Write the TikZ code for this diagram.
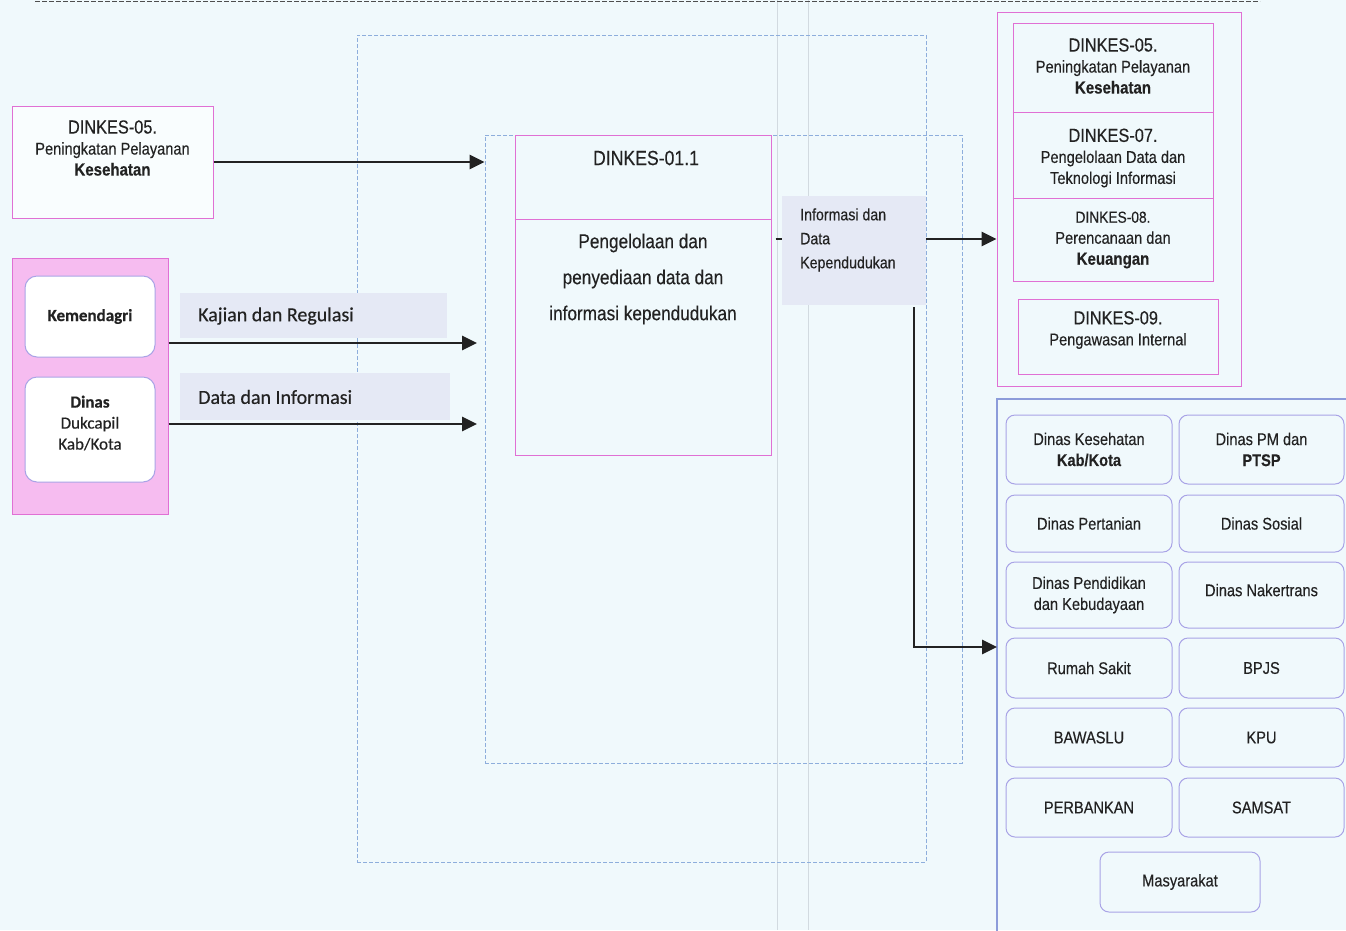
\documentclass[tikz,border=0pt]{standalone}
\usepackage{fontspec}
\setmainfont{Liberation Sans}[FakeStretch=0.86,FakeBold=0.3]
\newfontfamily\calfont{Carlito}[FakeBold=0.4]
\usetikzlibrary{arrows.meta}

\definecolor{bgc}{HTML}{F0F9FC}
\definecolor{mag}{HTML}{E070D4}
\definecolor{pinkfill}{HTML}{F6BCF0}
\definecolor{lav}{HTML}{A9A3E6}
\definecolor{dashblue}{HTML}{8EAEDC}
\definecolor{panelblue}{HTML}{8C9CDA}
\definecolor{tagbg}{HTML}{E5E9F5}
\definecolor{ink}{HTML}{222222}
\definecolor{scan}{HTML}{D2DAE0}

\newcommand{\fs}[1]{\fontsize{#1}{21}\selectfont}
\newcommand{\fb}[1]{\fontsize{#1}{21}\selectfont\bfseries}

\begin{document}
\begin{tikzpicture}[x=1pt,y=-1pt,
  box/.style={draw=mag, line width=1pt, inner sep=0pt},
  rbox/.style={draw=lav, line width=1pt, rounded corners=9pt, inner sep=0pt, align=center, text=ink, font=\fs{17}},
  dbox/.style={draw=dashblue, line width=0.9pt, dash pattern=on 4pt off 2pt, inner sep=0pt},
  tag/.style={fill=tagbg, inner sep=0pt},
  txt/.style={align=center, inner sep=0pt, text=ink, font=\fs{17}},
  flow/.style={draw=ink, line width=2.8pt, -{Triangle[length=15pt,width=14pt]}},
]
\useasboundingbox (0,0) rectangle (1346,930);
\clip (0,0) rectangle (1346,930);
\fill[bgc] (0,0) rectangle (1346,930);

% faint vertical rules
\draw[scan, line width=0.7pt] (777,0) -- (777,930);
\draw[scan, line width=0.7pt] (808,0) -- (808,930);

% top rule
\draw[ink!80, line width=1.6pt, dash pattern=on 5pt off 2pt] (35,1.5) -- (1260,1.5);

% dashed frames
\node[dbox, minimum width=569pt, minimum height=827pt] (outer) at (641.5,448.5) {};
\node[dbox, minimum width=477pt, minimum height=628pt] (inner) at (723.5,449) {};

% source: DINKES-05 on the left
\node[box, fill=white!60!bgc, minimum width=201pt, minimum height=112pt] (a5) at (112.5,162) {};
\node[txt] (a5t) at (112.5,148) {\fs{19}DINKES-05.\\ \fs{17}Peningkatan Pelayanan\\ \fb{17.5}Kesehatan};

% external sources group
\node[box, fill=pinkfill, minimum width=156pt, minimum height=256pt] (grpL) at (90,386) {};
\node[draw=lav, line width=1pt, rounded corners=12pt, fill=white, minimum width=130pt, minimum height=81pt, inner sep=0pt, text=ink, font=\calfont\bfseries\fontsize{17}{21}\selectfont] (kem) at (90,316.5) {Kemendagri};
\node[draw=lav, line width=1pt, rounded corners=12pt, fill=white, minimum width=130pt, minimum height=105pt, inner sep=0pt] (duk) at (90,429.5) {};
\node[txt, font=\calfont\fontsize{17}{21}\selectfont] (dukt) at (90,423) {\textbf{Dinas}\\ Dukcapil\\ Kab/Kota};

% flow labels
\node[tag, minimum width=267pt, minimum height=45pt] (tag1) at (313.5,315.5) {};
\node[txt, anchor=west, font=\calfont\fontsize{20}{24}\selectfont] (tag1t) at (198,316) {Kajian dan Regulasi};
\node[tag, minimum width=270pt, minimum height=47pt] (tag2) at (315,396.5) {};
\node[txt, anchor=west, font=\calfont\fontsize{20}{24}\selectfont] (tag2t) at (198,397) {Data dan Informasi};

% process box
\node[box, minimum width=256pt, minimum height=320pt] (proc) at (643,295) {};
\draw[mag, line width=1pt] (proc.west |- 0,219) -- (proc.east |- 0,219);
\node[txt, font=\fs{20.5}] (proct) at (646,158) {DINKES-01.1};
\node[txt, font=\fontsize{20}{36}\selectfont] (procb) at (643,279) {Pengelolaan dan\\ penyediaan data dan\\ informasi kependudukan};

% output label
\node[tag, minimum width=144pt, minimum height=109pt] (tag3) at (854,250.5) {};
\node[txt, anchor=west, align=left, font=\fontsize{16.5}{24}\selectfont] (tag3t) at (800,240) {Informasi dan\\ Data\\ Kependudukan};

% internal receivers
\node[box, minimum width=244pt, minimum height=374pt] (grpR) at (1119,199) {};
\node[box, minimum width=200pt, minimum height=258pt] (stack) at (1113,152) {};
\draw[mag, line width=0.8pt] (stack.west |- 0,112) -- (stack.east |- 0,112);
\draw[mag, line width=0.8pt] (stack.west |- 0,198) -- (stack.east |- 0,198);
\node[txt] (s5) at (1113,66) {\fs{19}DINKES-05.\\ \fs{17}Peningkatan Pelayanan\\ \fb{17.5}Kesehatan};
\node[txt] (s7) at (1113,158) {\fs{19}DINKES-07.\\ \fs{17}Pengelolaan Data dan\\ \fs{17}Teknologi Informasi};
\node[txt] (s8) at (1113,240) {\fs{16}DINKES-08.\\ \fs{17}Perencanaan dan\\ \fb{17.5}Keuangan};
\node[box, minimum width=200pt, minimum height=75pt] (d09) at (1118,336.5) {};
\node[txt] (d09t) at (1118,330) {\fs{19}DINKES-09.\\ \fs{17}Pengawasan Internal};

% external receivers panel
\node[draw=panelblue, line width=1.2pt, minimum width=363pt, minimum height=541pt, inner sep=0pt] (panel) at (1178.5,669.5) {};
\node[rbox, minimum width=166pt, minimum height=69pt] (r1a) at (1089,449.5) {Dinas Kesehatan\\ \fb{17}Kab/Kota};
\node[rbox, minimum width=165pt, minimum height=69pt] (r1b) at (1261.5,449.5) {Dinas PM dan\\ \fb{17}PTSP};
\node[rbox, minimum width=166pt, minimum height=57pt] (r2a) at (1089,523.5) {Dinas Pertanian};
\node[rbox, minimum width=165pt, minimum height=57pt] (r2b) at (1261.5,523.5) {Dinas Sosial};
\node[rbox, minimum width=166pt, minimum height=66pt] (r3a) at (1089,595) {Dinas Pendidikan\\ dan Kebudayaan};
\node[rbox, minimum width=165pt, minimum height=66pt, text depth=10pt] (r3b) at (1261.5,595) {Dinas Nakertrans};
\node[rbox, minimum width=166pt, minimum height=60pt] (r4a) at (1089,668) {Rumah Sakit};
\node[rbox, minimum width=165pt, minimum height=60pt] (r4b) at (1261.5,668) {BPJS};
\node[rbox, minimum width=166pt, minimum height=59pt] (r5a) at (1089,737.5) {BAWASLU};
\node[rbox, minimum width=165pt, minimum height=59pt] (r5b) at (1261.5,737.5) {KPU};
\node[rbox, minimum width=166pt, minimum height=59pt] (r6a) at (1089,807.5) {PERBANKAN};
\node[rbox, minimum width=165pt, minimum height=59pt] (r6b) at (1261.5,807.5) {SAMSAT};
\node[rbox, minimum width=160pt, minimum height=60pt] (r7) at (1180,882) {Masyarakat};

% connector end points
\coordinate (k1) at (477,343);
\coordinate (k2) at (477,424);
\coordinate (j1) at (926,239);
\coordinate (j2) at (914,307);
\coordinate (j3) at (997,647);

% connectors
\draw[flow] (a5.east) -- (a5.east -| inner.west);
\draw[flow] (grpL.east |- k1) -- (k1);
\draw[flow] (grpL.east |- k2) -- (k2);
\draw[ink, line width=2pt] (proc.east |- j1) ++(4pt,0) -- ++(6pt,0);
\draw[flow] (j1) -- (j1 -| grpR.west);
\draw[flow] (j2) |- (j3);
\end{tikzpicture}
\end{document}
